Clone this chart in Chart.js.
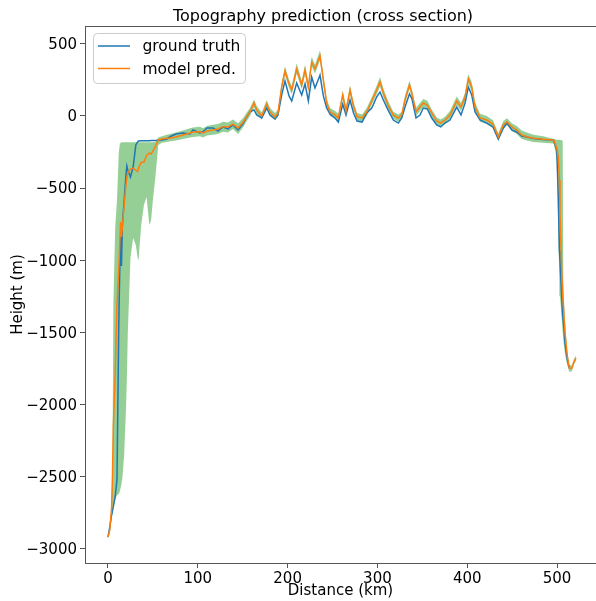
<!DOCTYPE html>
<html>
<head>
<meta charset="utf-8">
<script src="https://cdn.jsdelivr.net/npm/chart.js@4.4.1/dist/chart.umd.min.js"></script>
<style>
  html, body { margin: 0; padding: 0; background: #fff; }
  #wrap { width: 596px; height: 601px; }
</style>
</head>
<body>
<div id="wrap"><canvas id="myChart" width="596" height="601"></canvas></div>
<script>
const chartTitle = 'Topography prediction (cross section)';
const xTicks = [0, 100, 200, 300, 400, 500];
const yTicks = [-3000, -2500, -2000, -1500, -1000, -500, 0, 500];

const distanceKm = [
  0, 2, 4, 5, 6, 8, 10, 12, 13, 14, 15, 16, 18, 20, 21, 22, 25, 28, 31, 33, 34, 37, 40, 43, 46, 48, 50, 53, 56,
  60, 65.4, 69, 75.7, 83.5, 91.3, 94.7, 102.4, 105.8, 110.2, 116.9, 122.5, 128.1, 133.6, 139.2, 144.8, 150.3, 154.5,
  158.1, 162.6, 165.6, 171.2, 176.7, 180.4, 186, 189.3, 193.4, 197.1, 201.6, 204.6, 210.1, 215.7, 219.4, 223.1,
  226.8, 230.5, 236.1, 239.8, 243.5, 247.2, 252.8, 256.5, 261.4, 265, 269.5, 273.4, 277.3, 282.9, 288.1, 293.7,
  299.2, 302.9, 306.6, 311.8, 317.7, 323.3, 327.1, 330.7, 335.7, 338.5, 343, 347.4, 351.1, 355.6, 360.5, 366,
  370.5, 375.3, 380.8, 388.3, 393.1, 397.6, 401.2, 405, 408.7, 414.3, 421.7, 428.7, 434.6, 440.2, 444.3, 449.6,
  455.1, 460.7, 466.3, 473.6, 484.7,
  496, 496.7, 499.7, 501.4, 502.6, 503.3, 505.2, 506.3, 507, 507.8, 508.9, 510.8, 511.5, 513.7, 516.4, 518.9, 521.2
];

const groundTruth = [
  -2920, -2850, -2767, -2739, -2705, -2642, -2524, -1450, -1100, -840, -1040, -760, -583, -409, -347, -374, -423, -354, -201, -180,
  -173, -172, -171, -171, -171, -170, -170, -170, -168,
  -166, -160, -144, -125, -118, -125, -97, -118, -109, -83, -83, -104, -76, -90, -62, -97, -55, -7, 28, 42,
  7, -14, 55, 7, -21, 7, 146, 243, 139, 104, 229, 146, 222, 104, 270, 194, 284, 139, 55, 14,
  -14, -42, 83, 7, 111, 21, -35, -42, 21, 55, 132, 166, 111, 42, -28, -49, -14, 62, 153, 118,
  -14, 7, 55, 49, -14, -62, -76, -49, -28, 62, 7, 90, 201, 146, 28, -28, -49, -76, -160, -83,
  -49, -97, -111, -139, -146, -157, -163,
  -166, -180, -236, -559, -929, -999, -1255, -1380, -1429, -1484, -1574, -1664, -1692, -1748, null, null, null
];

const modelPred = [
  -2920, -2871, -2719, -2490, -2143, -1796, -1311, -1068, -895, -735, -839, -770, -617, -479, -430, -395, -368, -361, -378, -385,
  -361, -322, -319, -274, -257, -264, -243, -208, -166,
  -160, -155, -153, -146, -132, -118, -111, -109, -118, -104, -97, -90, -74, -76, -56, -83, -45, -5, 28, 90,
  42, 0, 83, 28, -7, 21, 201, 312, 222, 180, 326, 215, 319, 201, 374, 326, 416, 250, 90, 28,
  7, -14, 146, 35, 180, 69, -5, -14, 28, 104, 180, 236, 160, 76, 7, -14, 7, 111, 215, 153,
  28, 62, 90, 76, 21, -35, -49, -28, 7, 104, 62, 132, 257, 201, 62, -14, -28, -56, -146, -62,
  -40, -76, -97, -132, -144, -155, -162,
  -166, -173, -222, -284, -444, -673, -1068, -1241, -1311, -1394, -1505, -1623, -1665, -1748, -1750, -1704, -1680
];

const predUpper = [
  -2910, -2850, -2690, -2450, -1300, -777, -583, -260, -200, -185, -182, -182, -182, -182, -182, -182, -182, -182, -182, -182,
  -182, -182, -182, -182, -182, -182, -182, -180, -150,
  -140, -130, -125, -115, -100, -85, -80, -75, -85, -70, -60, -55, -40, -45, -25, -50, -15, 25, 55, 115,
  70, 25, 110, 55, 20, 45, 230, 345, 250, 210, 365, 245, 355, 230, 410, 355, 455, 280, 120, 55,
  35, 15, 175, 60, 210, 95, 20, 10, 55, 130, 210, 270, 190, 105, 30, 10, 30, 140, 245, 180,
  55, 90, 118, 105, 45, -10, -25, -5, 35, 135, 90, 160, 290, 235, 95, 15, 0, -30, -120, -35,
  -15, -50, -70, -100, -115, -130, -140,
  -160, -160, -165, -165, -165, -165, -168, -172, -1150, -1276, -1415, -1600, -1650, -1725, -1730, -1685, -1662
];

const predLower = [
  -2930, -2890, -2790, -2760, -2720, -2660, -2630, -2621, -2608, -2580, -2552, -2510, -2351, -2039, -1831, -1519, -985, -846, -895, -985,
  -1000, -756, -617, -562, -756, -721, -583, -409, -201,
  -185, -180, -175, -170, -160, -150, -145, -140, -150, -135, -130, -125, -110, -115, -90, -125, -80, -35, 0, 60,
  15, -25, 55, 0, -30, -5, 175, 285, 195, 150, 295, 185, 290, 170, 345, 295, 385, 220, 60, 0,
  -20, -40, 120, 10, 150, 45, -30, -40, 0, 80, 150, 205, 130, 50, -20, -40, -20, 85, 190, 125,
  0, 35, 62, 50, -5, -60, -75, -55, -20, 75, 35, 105, 225, 170, 35, -40, -55, -85, -170, -90,
  -65, -105, -125, -160, -170, -180, -185,
  -190, -200, -300, -800, -1150, -1250, -1400, -1500, -1550, -1600, -1650, -1710, -1730, -1775, -1770, -1722, -1698
];

Chart.defaults.font.family = 'DejaVu Sans';
Chart.defaults.font.size = 15;
Chart.defaults.color = '#000';

function toPoints(values) {
  const pts = [];
  for (let i = 0; i < distanceKm.length; i++) {
    if (values[i] !== null) pts.push({ x: distanceKm[i], y: values[i] });
  }
  return pts;
}

const minusLabel = (v) => (v < 0 ? '\u2212' + Math.abs(v) : String(v));

function roundedRect(ctx, x, y, w, h, r) {
  ctx.beginPath();
  ctx.moveTo(x + r, y);
  ctx.arcTo(x + w, y, x + w, y + h, r);
  ctx.arcTo(x + w, y + h, x, y + h, r);
  ctx.arcTo(x, y + h, x, y, r);
  ctx.arcTo(x, y, x + w, y, r);
  ctx.closePath();
}

// top spine, title and the legend box drawn by hand (matplotlib look)
const framePlugin = {
  id: 'frame',
  afterDraw(chart) {
    const { ctx, chartArea } = chart;
    ctx.save();
    ctx.strokeStyle = '#555';
    ctx.lineWidth = 1;
    ctx.beginPath();
    ctx.moveTo(chartArea.left, chartArea.top + 0.5);
    ctx.lineTo(chartArea.right, chartArea.top + 0.5);
    ctx.stroke();

    ctx.fillStyle = '#000';
    ctx.font = '16px "DejaVu Sans"';
    ctx.textAlign = 'center';
    ctx.textBaseline = 'alphabetic';
    ctx.fillText(chartTitle, 323, 21);

    roundedRect(ctx, 93.5, 33.5, 152, 50, 4);
    ctx.fillStyle = 'rgba(255,255,255,0.8)';
    ctx.fill();
    ctx.strokeStyle = '#cccccc';
    ctx.stroke();

    const entries = chart.data.datasets.filter((ds) => ds.inLegend);
    entries.forEach((ds, i) => {
      const y = 46 + i * 22.5;
      ctx.strokeStyle = ds.borderColor;
      ctx.lineWidth = 1.5;
      ctx.beginPath();
      ctx.moveTo(98, y);
      ctx.lineTo(130, y);
      ctx.stroke();
      ctx.fillStyle = '#000';
      ctx.font = '15.5px "DejaVu Sans"';
      ctx.textAlign = 'left';
      ctx.textBaseline = 'middle';
      ctx.fillText(ds.label, 142.5, y + 1);
    });
    ctx.restore();
  }
};

const ctx = document.getElementById('myChart');
new Chart(ctx, {
  type: 'line',
  data: {
    datasets: [
      {
        label: 'lower',
        data: toPoints(predLower),
        borderWidth: 0,
        pointRadius: 0,
        fill: false,
        order: 3,
      },
      {
        label: 'upper',
        data: toPoints(predUpper),
        borderWidth: 0,
        pointRadius: 0,
        fill: '-1',
        backgroundColor: 'rgba(44,160,44,0.5)',
        order: 2,
      },
      {
        label: 'ground truth',
        data: toPoints(groundTruth),
        borderColor: '#1f77b4',
        borderWidth: 1.5,
        pointRadius: 0,
        fill: false,
        inLegend: true,
        order: 1,
      },
      {
        label: 'model pred.',
        data: toPoints(modelPred),
        borderColor: '#ff7f0e',
        borderWidth: 1.5,
        pointRadius: 0,
        fill: false,
        inLegend: true,
        order: 0,
      },
    ],
  },
  options: {
    responsive: false,
    animation: false,
    devicePixelRatio: 1,
    layout: { padding: { top: 26, right: 0, left: 0, bottom: 0 } },
    plugins: {
      legend: { display: false },
      title: { display: false },
      tooltip: { enabled: false },
    },
    elements: { line: { tension: 0 } },
    scales: {
      x: {
        type: 'linear',
        min: -25.6,
        max: 543.4,
        afterBuildTicks: (scale) => { scale.ticks = xTicks.map((v) => ({ value: v })); },
        afterFit: (scale) => { scale.height = 38; },
        ticks: { autoSkip: false, maxRotation: 0, padding: 2, callback: minusLabel },
        grid: { drawOnChartArea: false, drawTicks: true, tickLength: 5, tickColor: '#555' },
        border: { display: true, color: '#555', width: 1 },
        title: { display: true, text: 'Distance (km)', padding: { top: 0, bottom: 1 } },
      },
      y: {
        type: 'linear',
        min: -3100,
        max: 624,
        afterBuildTicks: (scale) => { scale.ticks = yTicks.map((v) => ({ value: v })); },
        afterFit: (scale) => { scale.width = 85; },
        ticks: { autoSkip: false, padding: 3, labelOffset: 1.5, callback: minusLabel },
        grid: { drawOnChartArea: false, drawTicks: true, tickLength: 5, tickColor: '#555' },
        border: { display: true, color: '#555', width: 1 },
        title: { display: true, text: 'Height (m)', padding: { top: 9, bottom: 0 } },
      },
    },
  },
  plugins: [framePlugin],
});
</script>
</body>
</html>
